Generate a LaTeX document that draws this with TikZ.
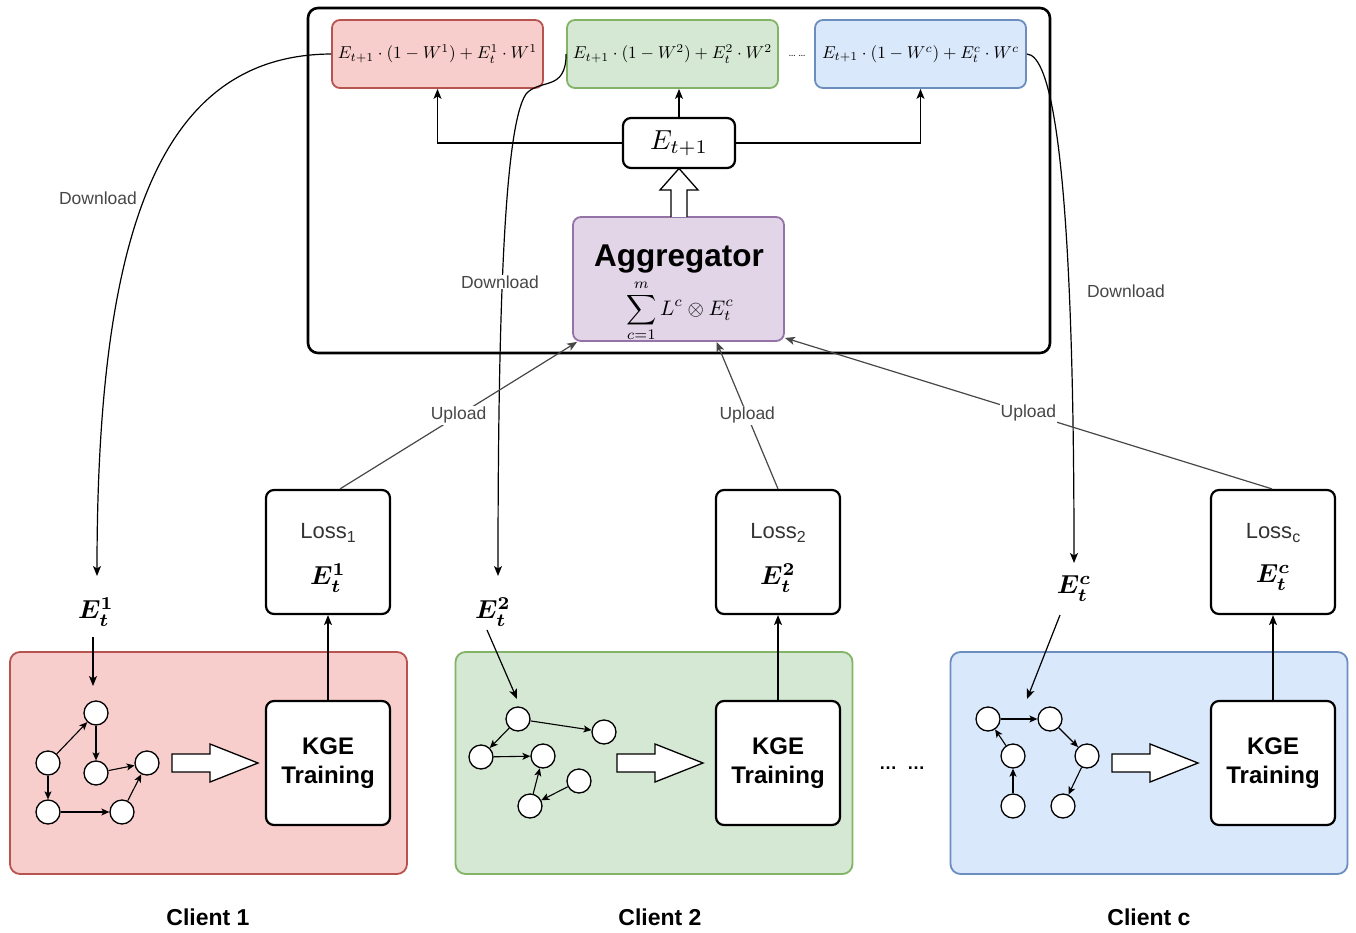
\documentclass[tikz,border=0pt]{standalone}
\usepackage{amsmath}
\usepackage{graphicx}
\usepackage{fontspec}
\newfontfamily\arial{Liberation Sans}
\usetikzlibrary{arrows.meta,calc}
\definecolor{redF}{HTML}{F8CECC}
\definecolor{redD}{HTML}{B85450}
\definecolor{greenF}{HTML}{D5E8D4}
\definecolor{greenD}{HTML}{82B366}
\definecolor{blueF}{HTML}{DAE8FC}
\definecolor{blueD}{HTML}{6C8EBF}
\definecolor{purpF}{HTML}{E1D5E7}
\definecolor{purpD}{HTML}{9673A6}
\newcommand\fsz[1]{\fontsize{#1}{#1}\selectfont}
\newcommand\mth[2]{\scalebox{#1}{\normalsize$#2$}}
\newcommand\bmth[2]{\scalebox{#1}{\normalsize\boldmath$#2$}}
\begin{document}
\begin{tikzpicture}[x=1pt,y=-1pt,
  box/.style={draw, line width=2.2pt, rounded corners=8pt, fill=white, minimum width=124pt, minimum height=124pt, align=center, inner sep=0pt},
  formula/.style={draw, line width=1.8pt, rounded corners=8pt, minimum width=211pt, minimum height=68pt, inner sep=1pt},
  client/.style={draw, line width=1.8pt, rounded corners=10pt, minimum width=397pt, minimum height=222pt},
  gn/.style={circle, draw, line width=1.3pt, fill=white, minimum size=24pt, inner sep=0pt},
  conn/.style={line width=1.2pt, -{Stealth[length=10pt,width=8pt,inset=2.5pt]}},
  gconn/.style={line width=1.1pt, -{Stealth[length=8pt,width=7pt,inset=2pt]}},
  lbl/.style={font=\arial\fsz{17.5}, text=black!72, inner sep=1pt},
  hollow/.style={draw, line width=1.3pt, fill=white, line join=miter},
  kge/.style={box, font=\arial\bfseries\fontsize{24}{29}\selectfont}
]
\useasboundingbox (0,0) rectangle (1356,933);

% server
\node[draw, line width=2.6pt, rounded corners=10pt, minimum width=742pt, minimum height=345pt] (server) at (679,180.5) {};

% formula boxes
\node[formula, fill=redF, draw=redD] (f1) at (437.5,54) {\mth{1.72}{E_{t+1}\cdot(1-W^1)+E_t^1\cdot W^1}};
\node[formula, fill=greenF, draw=greenD] (f2) at (672.5,54) {\mth{1.72}{E_{t+1}\cdot(1-W^2)+E_t^2\cdot W^2}};
\node[formula, fill=blueF, draw=blueD] (fc) at (920.5,54) {\mth{1.72}{E_{t+1}\cdot(1-W^c)+E_t^c\cdot W^c}};
\node[inner sep=0pt] (fdots) at (797,56) {\fsz{12}\ldots\,\ldots};

% E_{t+1}
\node[draw, line width=2.2pt, rounded corners=8pt, fill=white, minimum width=112pt, minimum height=50pt, inner sep=0pt] (et) at (679,143) {\mth{2.75}{E_{t+1}}};

% aggregator
\node[draw=purpD, fill=purpF, line width=1.8pt, rounded corners=8pt, minimum width=211pt, minimum height=124pt] (agg) at (678.5,279) {};
\node[inner sep=0pt] (aggt) at (679,259) {\arial\bfseries\fsz{31.5}Aggregator};
\node[inner sep=0pt] (aggs) at (680,311) {\mth{2.1}{\displaystyle\sum_{c=1}^{m} L^c\otimes E_t^c}};

% hollow arrow agg -> et
\draw[hollow] (671,217) -- (671,190) -- (660,190) -- (679,168.5) -- (698,190) -- (687,190) -- (687,217);

% E_{t+1} to formula boxes
\draw[conn] (et.west) -| (f1.south);
\draw[conn] (et.east) -| (fc.south);
\draw[conn] (et.north) -- (et.north |- f2.south);

% loss boxes
\node[box] (l1) at (328,552) {};
\node[box] (l2) at (778,552) {};
\node[box] (lc) at (1273,552) {};
\node (l1t) at (328,533) {\arial\fsz{22}\color{black!80}Loss\raisebox{-0.35ex}{\fsz{16}1}};
\node (l2t) at (778,533) {\arial\fsz{22}\color{black!80}Loss\raisebox{-0.35ex}{\fsz{16}2}};
\node (lct) at (1273,533) {\arial\fsz{22}\color{black!80}Loss\raisebox{-0.35ex}{\fsz{16}c}};
\node (l1e) at (328,578) {\bmth{2.6}{E_t^1}};
\node (l2e) at (778,578) {\bmth{2.6}{E_t^2}};
\node (lce) at (1273,578) {\bmth{2.6}{E_t^c}};

% client boxes
\node[client, fill=redF, draw=redD] (c1) at (208.5,763) {};
\node[client, fill=greenF, draw=greenD] (c2) at (654,763) {};
\node[client, fill=blueF, draw=blueD] (cc) at (1149,763) {};

% KGE boxes
\node[kge] (k1) at (328,763) {KGE\\Training};
\node[kge] (k2) at (778,763) {KGE\\Training};
\node[kge] (kc) at (1273,763) {KGE\\Training};

\draw[conn] (k1.north) -- (l1.south);
\draw[conn] (k2.north) -- (l2.south);
\draw[conn] (kc.north) -- (lc.south);

% hollow arrows in clients
\foreach \dx in {0,445,940}{
  \draw[hollow] (172+\dx,754) -- (210+\dx,754) -- (210+\dx,744) -- (258+\dx,763) -- (210+\dx,782) -- (210+\dx,772) -- (172+\dx,772) -- cycle;
}

\node (dots2) at (902,768) {\arial\bfseries\fsz{18}\ldots\ \ \ldots};

% client labels
\node (cl1) at (208,917) {\arial\bfseries\fsz{23}Client 1};
\node (cl2) at (660,917) {\arial\bfseries\fsz{23}Client 2};
\node (clc) at (1149,917) {\arial\bfseries\fsz{23}Client c};

% E labels
\node (e1) at (96,612) {\bmth{2.6}{E_t^1}};
\node (e2) at (493,612) {\bmth{2.6}{E_t^2}};
\node (ec) at (1074,589) {\bmth{2.6}{E_t^c}};

% download curves
\coordinate (d1) at (97,576);
\coordinate (d2) at (498,576);
\coordinate (dc) at (1074,563);
\draw[conn] (f1.west) .. controls (160,55) and (97,230) .. (d1);
\draw[conn] (f2.west) .. controls (566,92) and (540,78) .. (526,94) .. controls (505,125) and (498,300) .. (d2);
\draw[conn] (fc.east) .. controls (1050,55) and (1074,150) .. (dc);
\node[lbl] (dl1) at (98,198) {Download};
\node[lbl, fill=white] (dl2) at (500,282) {Download};
\node[lbl] (dl3) at (1126,291) {Download};

% uploads
\draw[conn, draw=black!72] ([xshift=12pt]l1.north) -- node[lbl, fill=white] (u1) {Upload} ([xshift=5pt]agg.south west);
\draw[conn, draw=black!72] (l2.north) -- node[lbl, fill=white] (u2) {Upload} ([xshift=38pt]agg.south);
\draw[conn, draw=black!72] ([xshift=-1pt]lc.north) -- node[lbl, fill=white] (u3) {Upload} ([yshift=4pt]agg.south east);

% graph client 1
\node[gn] (a1) at (96,713) {};
\node[gn] (a2) at (48,763) {};
\node[gn] (a3) at (96,773) {};
\node[gn] (a4) at (147,763) {};
\node[gn] (a5) at (48,812) {};
\node[gn] (a6) at (122,812) {};
\draw[gconn] (a2) -- (a1);
\draw[gconn] (a1) -- (a3);
\draw[gconn] (a3) -- (a4);
\draw[gconn] (a2) -- (a5);
\draw[gconn] (a5) -- (a6);
\draw[gconn] (a6) -- (a4);
\coordinate (g1) at (93,686);
\draw[conn] (93,637) -- (g1);

% graph client 2
\node[gn] (b1) at (518,719) {};
\node[gn] (b2) at (604,732) {};
\node[gn] (b3) at (481,757) {};
\node[gn] (b4) at (543,756) {};
\node[gn] (b5) at (579,781) {};
\node[gn] (b6) at (530,806) {};
\draw[gconn] (b1) -- (b2);
\draw[gconn] (b1) -- (b3);
\draw[gconn] (b3) -- (b4);
\draw[gconn] (b6) -- (b4);
\draw[gconn] (b5) -- (b6);
\coordinate (g2) at (517,699);
\draw[conn] (487,630) -- (g2);

% graph client c
\node[gn] (p1) at (988,719) {};
\node[gn] (p2) at (1050,719) {};
\node[gn] (p3) at (1013,756) {};
\node[gn] (p4) at (1087,756) {};
\node[gn] (p5) at (1013,806) {};
\node[gn] (p6) at (1063,806) {};
\draw[gconn] (p1) -- (p2);
\draw[gconn] (p3) -- (p1);
\draw[gconn] (p5) -- (p3);
\draw[gconn] (p2) -- (p4);
\draw[gconn] (p4) -- (p6);
\coordinate (gc) at (1027,699);
\draw[conn] (1060,615) -- (gc);
\end{tikzpicture}
\end{document}
